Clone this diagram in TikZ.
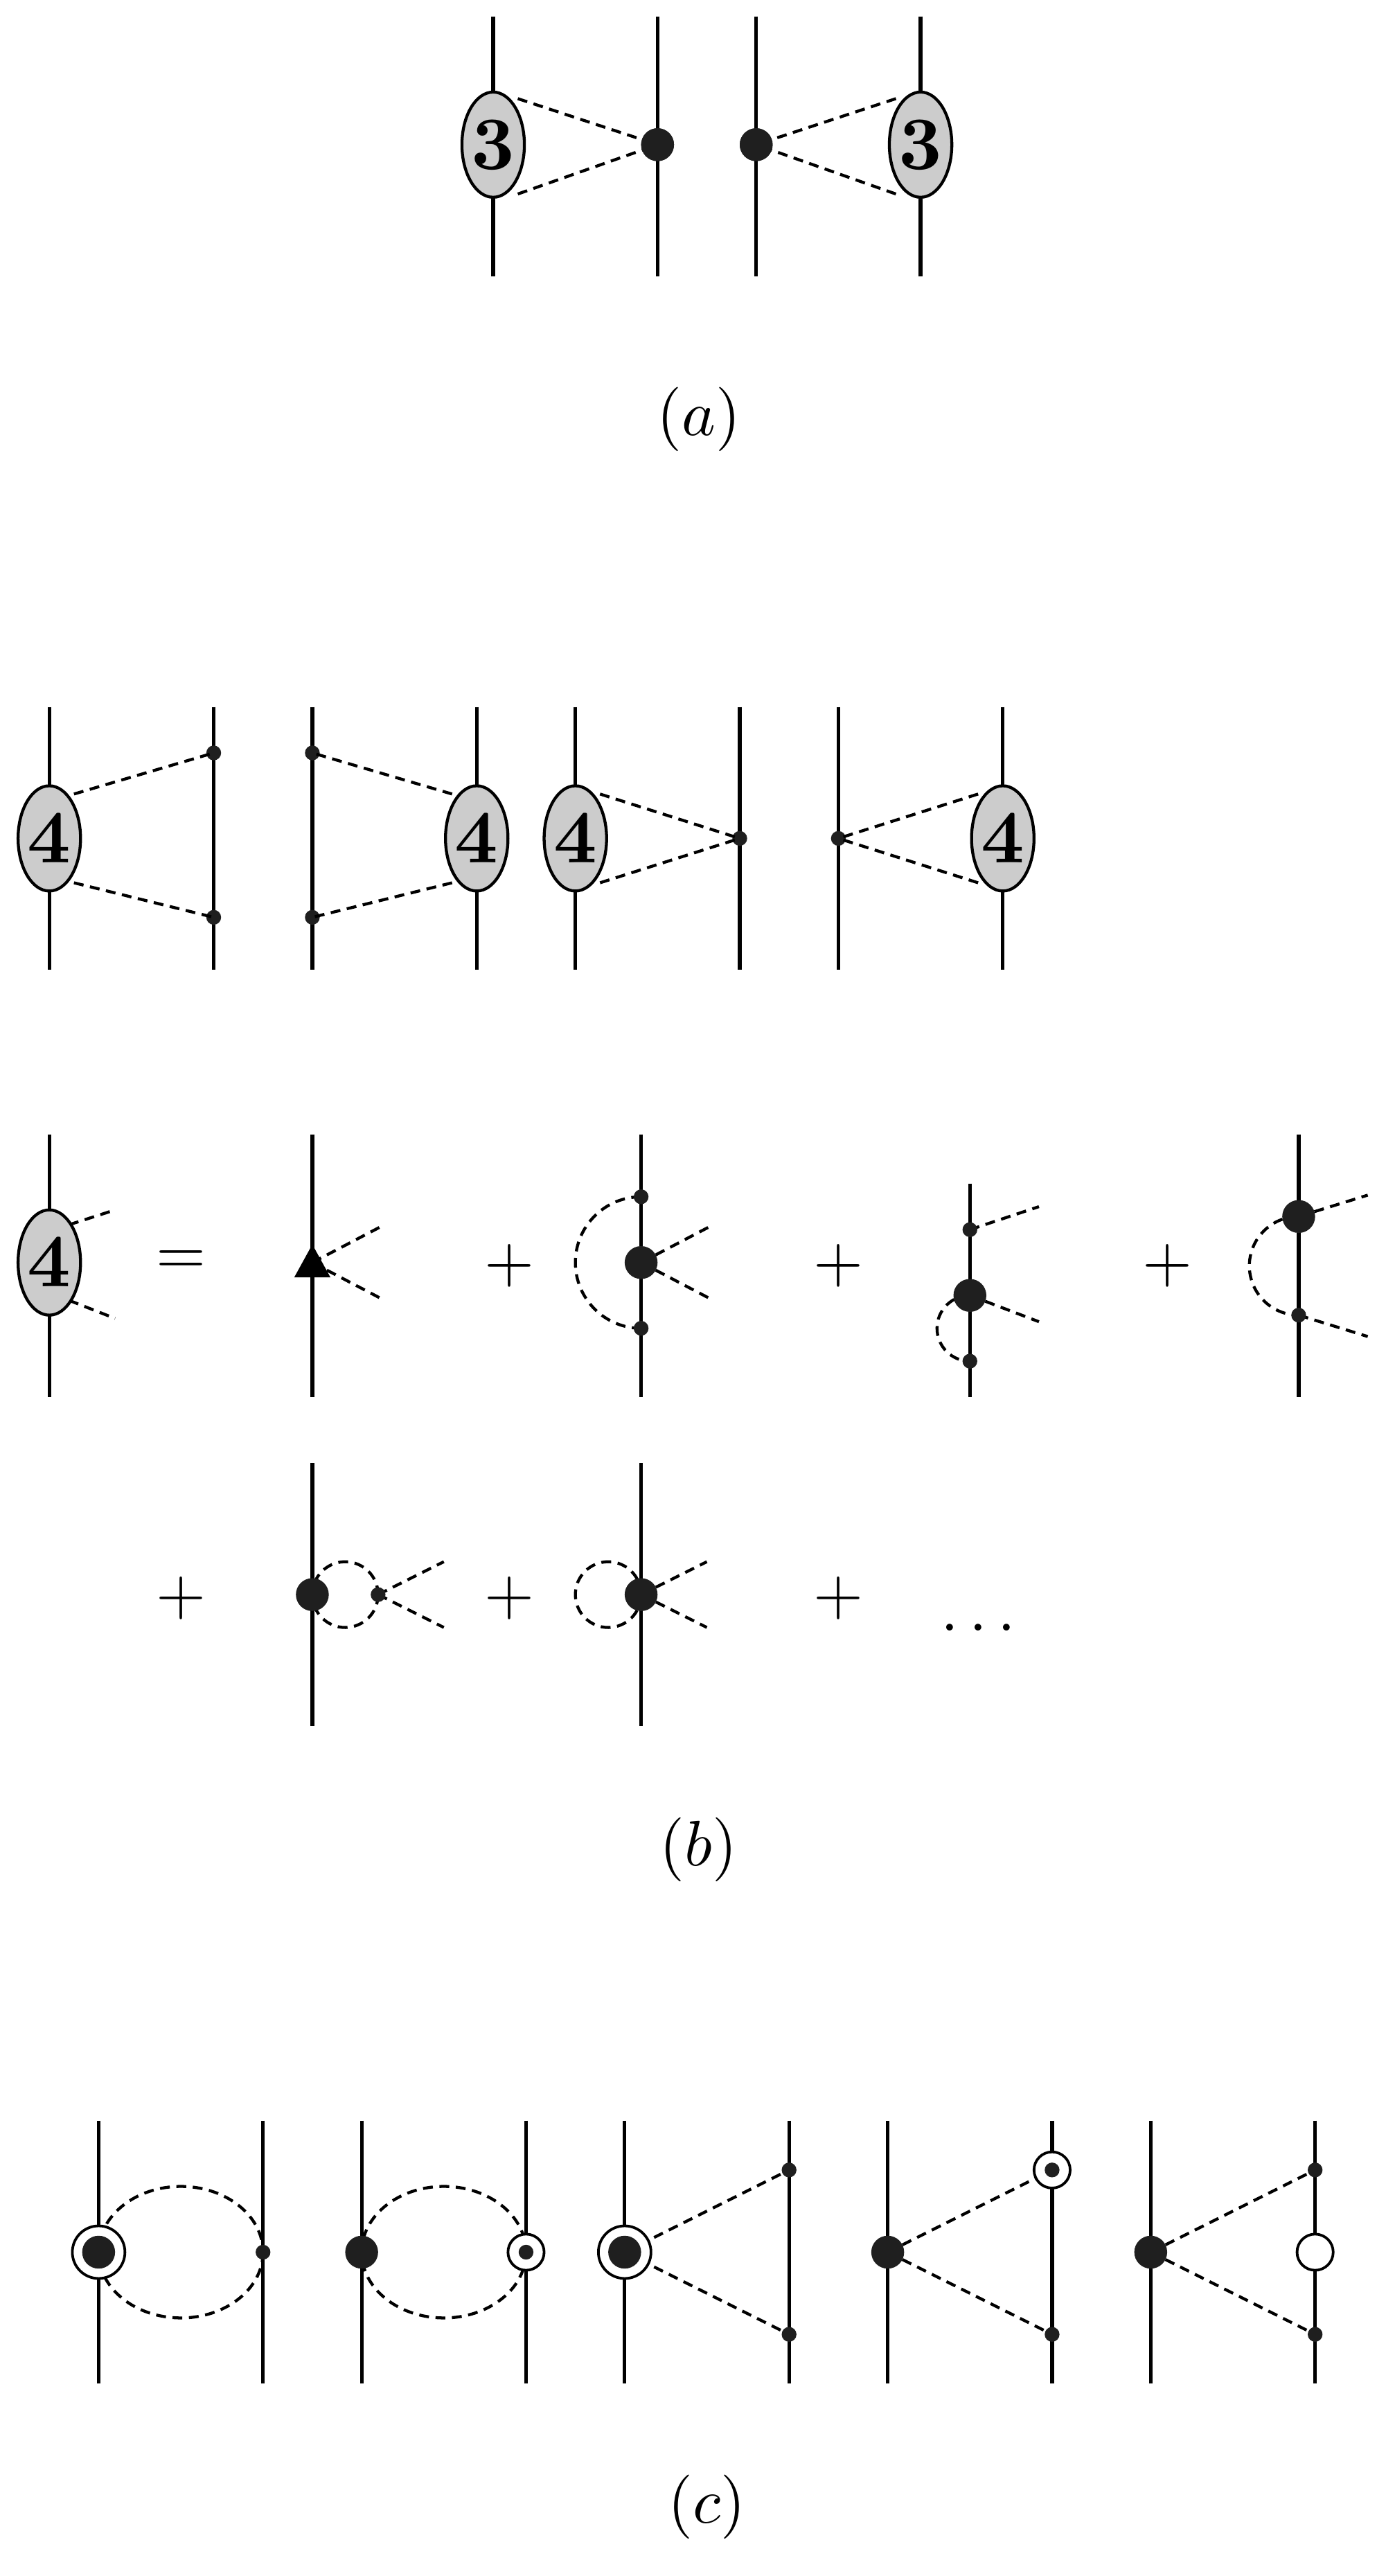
\documentclass[tikz,border=0pt]{standalone}
\usetikzlibrary{shapes.geometric}
\newcommand{\bnum}[1]{\scalebox{4.6}{$\mathbf{#1}$}}
\tikzset{
 ln/.style={line width=2.2pt},
 ds/.style={line width=1.8pt,dash pattern=on 6pt off 4pt},
 blob/.style={ellipse,draw,line width=1.8pt,fill=black!20,minimum width=38pt,minimum height=64pt,inner sep=0pt},
 bd/.style={circle,fill=black!88,minimum size=20pt,inner sep=0pt},
 sd/.style={circle,fill=black!88,minimum size=9pt,inner sep=0pt},
 cbd/.style={circle,draw,line width=1.6pt,fill=white,minimum size=32pt,inner sep=0pt},
 csd/.style={circle,draw,line width=1.6pt,fill=white,minimum size=22pt,inner sep=0pt},
 lab/.style={scale=3.9},
 op/.style={scale=3.9}
}
\begin{document}
\begin{tikzpicture}[x=1pt,y=-1pt]
\useasboundingbox (0,0) rectangle (843,1567);
% (a)
\draw[ln] (300,10)--(300,168); \draw[ln] (400,10)--(400,168);
\draw[ln] (460,10)--(460,168); \draw[ln] (560,10)--(560,168);
\node[bd] (a2) at (400,88) {}; \node[bd] (a3) at (460,88) {};
\draw[ds] (315,60)--(a2.center); \draw[ds] (315,118)--(a2.center);
\draw[ds] (545,60)--(a3.center); \draw[ds] (545,118)--(a3.center);
\node[bd] at (400,88) {}; \node[bd] at (460,88) {};
\node[blob] (a1) at (300,88) {\bnum{3}}; \node[blob] (a4) at (560,88) {\bnum{3}};
\node[lab] (la) at (425,255) {$(a)$};
% (b) row1
\foreach \x in {30,130,190,290,350,450,510,610} \draw[ln] (\x,430)--(\x,590);
\node[sd] (p1) at (130,458) {}; \node[sd] (p2) at (130,558) {};
\node[sd] (p3) at (190,458) {}; \node[sd] (p4) at (190,558) {};
\node[sd] (p5) at (450,510) {}; \node[sd] (p6) at (510,510) {};
\draw[ds] (45,483)--(p1.center); \draw[ds] (45,537)--(p2.center);
\draw[ds] (275,483)--(p3.center); \draw[ds] (275,537)--(p4.center);
\draw[ds] (365,483)--(p5.center); \draw[ds] (365,537)--(p5.center);
\draw[ds] (595,483)--(p6.center); \draw[ds] (595,537)--(p6.center);
\node[blob] (b1) at (30,510) {\bnum{4}}; \node[blob] (b2) at (290,510) {\bnum{4}};
\node[blob] (b3) at (350,510) {\bnum{4}}; \node[blob] (b4) at (610,510) {\bnum{4}};
% row2
\draw[ln] (30,690)--(30,850);
\draw[ds] (42,745)--(70,736); \draw[ds] (42,791)--(70,802);
\node[blob] (b5) at (30,768) {\bnum{4}};
\node[op] (eq) at (110,768) {$=$};
\draw[ln] (190,690)--(190,850);
\draw[ds] (190,768)--(232,746); \draw[ds] (190,768)--(232,790);
\fill (190,757)--(201,777)--(179,777)--cycle;
\node[op] (pl1) at (310,770) {$+$};
\draw[ln] (390,690)--(390,850);
\draw[ds] (390,728) arc[start angle=270,end angle=90,radius=40];
\draw[ds] (390,768)--(432,746); \draw[ds] (390,768)--(432,790);
\node[bd] (q1) at (390,768) {}; \node[sd] at (390,728) {}; \node[sd] at (390,808) {};
\node[op] (pl2) at (510,770) {$+$};
\draw[ln] (590,720)--(590,850);
\draw[ds] (590,788) arc[start angle=270,end angle=90,radius=20];
\draw[ds] (590,748)--(632,734); \draw[ds] (590,788)--(632,804);
\node[sd] at (590,748) {}; \node[bd] at (590,788) {}; \node[sd] at (590,828) {};
\node[op] (pl3) at (710,770) {$+$};
\draw[ln] (790,690)--(790,850);
\draw[ds] (790,740) arc[start angle=270,end angle=90,radius=30];
\draw[ds] (790,740)--(832,727); \draw[ds] (790,800)--(832,813);
\node[bd] at (790,740) {}; \node[sd] at (790,800) {};
% row3
\node[op] (pl4) at (110,972) {$+$};
\draw[ln] (190,890)--(190,1050);
\draw[ds] (210,970) circle[radius=20];
\draw[ds] (230,970)--(270,950); \draw[ds] (230,970)--(270,990);
\node[bd] at (190,970) {}; \node[sd] at (230,970) {};
\node[op] (pl5) at (310,972) {$+$};
\draw[ln] (390,890)--(390,1050);
\draw[ds] (370,970) circle[radius=20];
\draw[ds] (390,970)--(430,950); \draw[ds] (390,970)--(430,990);
\node[bd] at (390,970) {};
\node[op] (pl6) at (510,972) {$+$};
\node[op] (dots) at (595,990) {$\dots$};
\node[lab] (lb) at (425,1125) {$(b)$};
% (c)
\foreach \x in {60,160,220,320,380,480,540,640,700,800} \draw[ln] (\x,1290)--(\x,1450);
\draw[ds] (110,1370) ellipse[x radius=50,y radius=40];
\draw[ds] (270,1370) ellipse[x radius=50,y radius=40];
\node[cbd] at (60,1370) {}; \node[bd] at (60,1370) {}; \node[sd] at (160,1370) {};
\node[bd] at (220,1370) {}; \node[csd] at (320,1370) {}; \node[sd] at (320,1370) {};
\draw[ds] (380,1370)--(480,1320); \draw[ds] (380,1370)--(480,1420);
\node[cbd] at (380,1370) {}; \node[bd] at (380,1370) {};
\node[sd] at (480,1320) {}; \node[sd] at (480,1420) {};
\draw[ds] (540,1370)--(640,1320); \draw[ds] (540,1370)--(640,1420);
\node[bd] at (540,1370) {}; \node[csd] at (640,1320) {}; \node[sd] at (640,1320) {}; \node[sd] at (640,1420) {};
\draw[ds] (700,1370)--(800,1320); \draw[ds] (700,1370)--(800,1420);
\node[bd] at (700,1370) {}; \node[sd] at (800,1320) {}; \node[sd] at (800,1420) {};
\node[csd] at (800,1370) {};
\node[lab] (lc) at (430,1525) {$(c)$};
\end{tikzpicture}
\end{document}
